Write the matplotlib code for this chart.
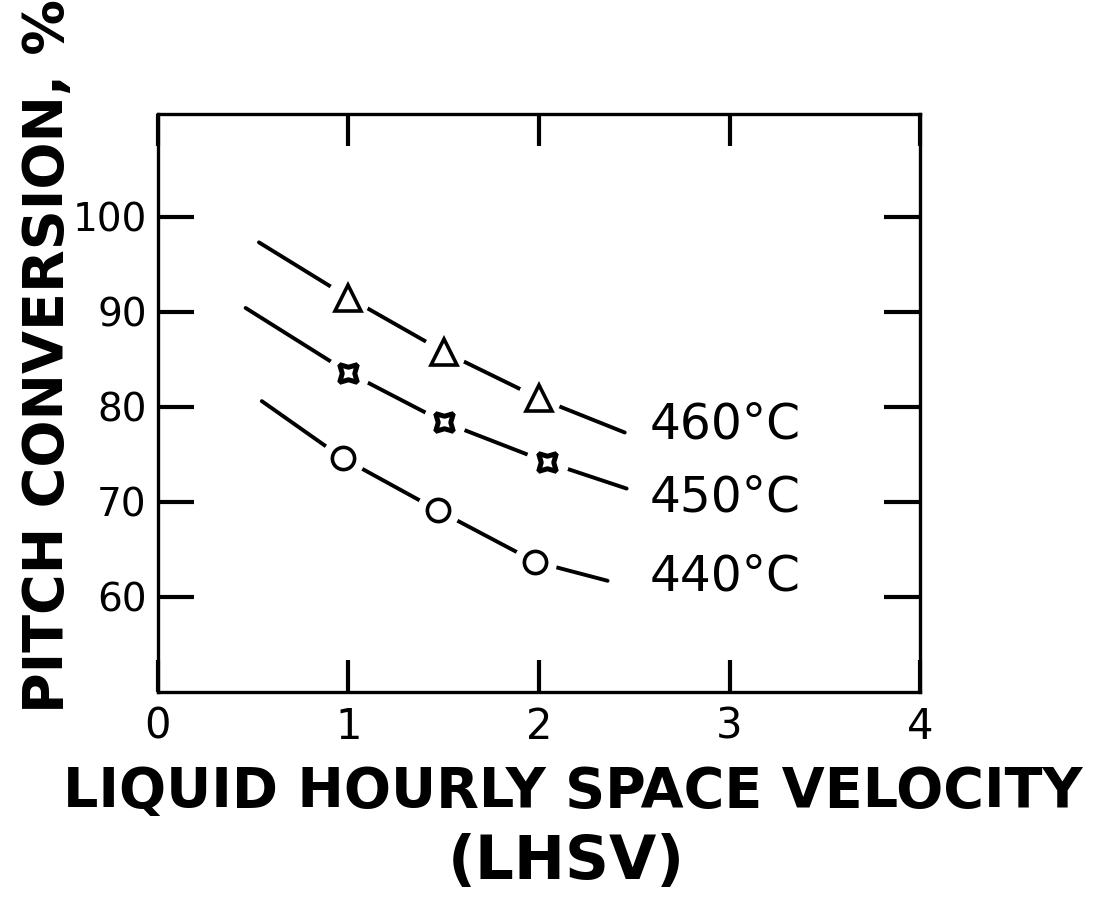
import matplotlib
matplotlib.use('Agg')
import matplotlib.pyplot as plt

# readings from the figure (LHSV vs pitch conversion, %)
lhsv_pts = [1.0, 1.5, 2.0]
conv_460 = [91.5, 85.8, 80.9]
lhsv_450 = [1.0, 1.5, 2.04]
conv_450 = [83.6, 78.4, 74.2]
lhsv_440 = [0.97, 1.47, 1.98]
conv_440 = [74.6, 69.1, 63.7]

# hand-drawn curves through the points (ends)
curve_x_460 = [0.53, 1.0, 1.5, 2.0, 2.45]
curve_y_460 = [97.3, 91.5, 85.8, 80.9, 77.3]
curve_x_450 = [0.46, 1.0, 1.5, 2.04, 2.46]
curve_y_450 = [90.4, 83.6, 78.4, 74.2, 71.4]
curve_x_440 = [0.545, 0.97, 1.47, 1.98, 2.36]
curve_y_440 = [80.6, 74.6, 69.1, 63.7, 61.7]

labels = ['460°C', '450°C', '440°C']
label_y = [78.1, 70.5, 62.1]

xticks = [0, 1, 2, 3, 4]
yticks = [60, 70, 80, 90, 100]

plt.rcParams['font.family'] = ['DejaVu Sans']

fig = plt.figure(figsize=(11.07, 8.98), dpi=100)
ax = fig.add_axes([0.1427, 0.2294, 0.6884, 0.6436])

curves = [(curve_x_460, curve_y_460, lhsv_pts, conv_460, '^', 19, 2.6),
          (curve_x_450, curve_y_450, lhsv_450, conv_450, (4, 1, 45), 18, 3.6),
          (curve_x_440, curve_y_440, lhsv_440, conv_440, 'o', 16, 2.6)]

for cx, cy, px, py, mk, ms, mw in curves:
    ax.plot(cx, cy, color='black', lw=2.8, solid_capstyle='round', zorder=2)
    # white halo to break the line around each point
    ax.plot(px, py, 'o', ms=30, color='white', mec='white', zorder=3)
    ax.plot(px, py, linestyle='none', marker=mk, ms=ms, mfc='white',
            mec='black', mew=mw, zorder=4)

for lab, ly in zip(labels, label_y):
    ax.text(2.58, ly, lab, fontsize=35, va='center', ha='left')

ax.set_xlim(0, 4)
ax.set_ylim(50, 110.8)
ax.set_xticks(xticks)
ax.set_yticks(yticks)
ax.set_xticklabels([str(v) for v in xticks], fontsize=30)
ax.set_yticklabels([str(v) for v in yticks], fontsize=28)
ax.tick_params(axis='x', direction='in', length=23, width=3, top=True, pad=10)
ax.tick_params(axis='y', direction='in', length=26, width=3, right=True, pad=8)
for sp in ax.spines.values():
    sp.set_linewidth(2.4)

fig.text(0.517, 0.118, 'LIQUID HOURLY SPACE VELOCITY', fontsize=40,
         fontweight='bold', ha='center', va='center')
fig.text(0.512, 0.04, '(LHSV)', fontsize=44, fontweight='bold',
         ha='center', va='center')
fig.text(0.043, 0.604, 'PITCH CONVERSION, %', fontsize=40, fontweight='bold',
         rotation=90, ha='center', va='center')

fig.savefig('out.png', dpi=100)
